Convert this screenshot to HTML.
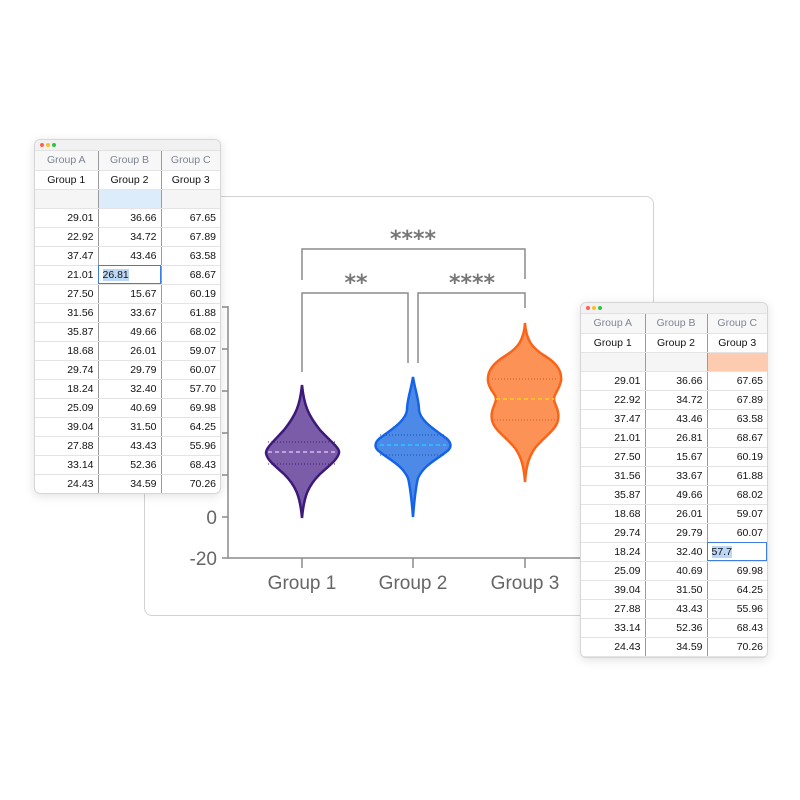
<!DOCTYPE html>
<html><head><meta charset="utf-8"><style>
body{margin:0;width:800px;height:800px;background:#fff;position:relative;overflow:hidden;font-family:"Liberation Sans",sans-serif}
.win{position:absolute;background:#fff;border:1px solid #d6d6d6;border-radius:6px;box-shadow:0 2px 10px rgba(0,0,0,0.12);overflow:hidden}
.tb{height:10px;background:#f1f1f1;position:relative;border-bottom:1px solid #e2e2e2}
.tb i{position:absolute;top:3px;width:4px;height:4px;border-radius:50%}
table{border-collapse:collapse;table-layout:fixed}
td{border-bottom:1px solid #e4e4e4;border-right:1px solid #9a9aa0;height:19px;padding:0 4px;font-size:10.5px;text-align:right;color:#111;box-sizing:border-box;overflow:hidden;white-space:nowrap}
td:last-child{border-right:none}
tr.h td{text-align:center;color:#7d8594;background:#f7f7f7}
tr.g td{text-align:center;color:#111}
tr.e td{background:#f5f5f5}
.sel{outline:1.5px solid #3d7ee0;outline-offset:-1.5px;text-align:left}
.sel span{background:#bcd6f5}
</style></head><body>
<div class="win" style="left:144px;top:196px;width:508px;height:418px;border-radius:8px;box-shadow:none;border-color:#d2d2d2"></div>
<svg style="position:absolute;left:0;top:0" width="800" height="800">
<g stroke="#8c8c8c" stroke-width="1.5" fill="none">
<path d="M228 306V558H580"/>
<path d="M222 307H228M222 349H228M222 391H228M222 433H228M222 475H228M222 517H228M222 558H228"/>
<path d="M302 558V568M413 558V568M525 558V568"/>
<path d="M302 280V249H525V279"/>
<path d="M302 372V293H408V363"/>
<path d="M418 363V293H525V308"/>
</g>
<g font-family="Liberation Sans,sans-serif" fill="#666" font-size="19">
<text x="217" y="524" text-anchor="end">0</text>
<text x="217" y="565" text-anchor="end">-20</text>
<text x="302" y="589" text-anchor="middle">Group 1</text>
<text x="413" y="589" text-anchor="middle">Group 2</text>
<text x="525" y="589" text-anchor="middle">Group 3</text>
</g>
<g font-family="DejaVu Sans,sans-serif" fill="#777" font-size="22" font-weight="bold" text-anchor="middle">
<text x="413" y="246">****</text>
<text x="356" y="290">**</text>
<text x="472" y="290">****</text>
</g>
<path d="M302 385C304 405 308 415 320 430C332 443 340 448 339 453C337 460 330 465 320 474C308 486 304 496 302 518C300 496 296 486 284 474C274 465 267 460 266 453C266 448 272 443 284 430C296 415 300 405 302 385Z" fill="#7b5ca8" stroke="#3c1a7a" stroke-width="2.5"/>
<path d="M268 442H336M268 464H336" stroke="#3c1a7a" stroke-width="1" stroke-dasharray="1 2"/>
<path d="M268 452H336" stroke="#d9b8f0" stroke-width="1.5" stroke-dasharray="4 3"/>
<path d="M413 377C415 390 419 400 419 410C420 420 432 428 446 438C452 443 452 448 446 452C436 460 424 465 418 478C415 490 414 505 413 517C412 505 411 490 408 478C402 465 390 460 380 452C374 448 374 443 380 438C394 428 406 420 407 410C407 400 411 390 413 377Z" fill="#4d8ae8" stroke="#1564e8" stroke-width="2.5"/>
<path d="M380 435H446M380 455H446" stroke="#1a4fb0" stroke-width="1" stroke-dasharray="1 2"/>
<path d="M380 445H446" stroke="#2ec4ff" stroke-width="1.5" stroke-dasharray="4 3"/>
<path d="M525 323C526 340 532 348 545 356C558 364 562 372 561 381C559 390 554 394 554 399C554 404 560 410 558 420C556 430 545 436 535 448C528 458 526 468 525 482C524 468 522 458 515 448C505 436 494 430 492 420C490 410 496 404 496 399C496 394 489 390 488 381C487 372 492 364 505 356C518 348 524 340 525 323Z" fill="#fd9256" stroke="#fa6418" stroke-width="2.5"/>
<path d="M492 379H558M494 420H556" stroke="#d85a1a" stroke-width="1" stroke-dasharray="1 2"/>
<path d="M496 399H554" stroke="#f7d020" stroke-width="1.5" stroke-dasharray="4 3"/>
</svg>

<div class="win" style="left:34px;top:139px;width:185px;height:353px">
<div class="tb"><i style="left:5px;background:#ff5f57"></i><i style="left:11px;background:#febc2e"></i><i style="left:17px;background:#28c840"></i></div>
<table style="width:185px"><colgroup><col style="width:63px"><col style="width:63px"><col style="width:59px"></colgroup>
<tr class="h"><td>Group A</td><td>Group B</td><td>Group C</td></tr>
<tr class="g"><td>Group 1</td><td>Group 2</td><td>Group 3</td></tr>
<tr class="e"><td></td><td style="background:#ddecfb"></td><td></td></tr>
<tr><td>29.01</td><td>36.66</td><td>67.65</td></tr>
<tr><td>22.92</td><td>34.72</td><td>67.89</td></tr>
<tr><td>37.47</td><td>43.46</td><td>63.58</td></tr>
<tr><td>21.01</td><td class="sel"><span>26.81</span></td><td>68.67</td></tr>
<tr><td>27.50</td><td>15.67</td><td>60.19</td></tr>
<tr><td>31.56</td><td>33.67</td><td>61.88</td></tr>
<tr><td>35.87</td><td>49.66</td><td>68.02</td></tr>
<tr><td>18.68</td><td>26.01</td><td>59.07</td></tr>
<tr><td>29.74</td><td>29.79</td><td>60.07</td></tr>
<tr><td>18.24</td><td>32.40</td><td>57.70</td></tr>
<tr><td>25.09</td><td>40.69</td><td>69.98</td></tr>
<tr><td>39.04</td><td>31.50</td><td>64.25</td></tr>
<tr><td>27.88</td><td>43.43</td><td>55.96</td></tr>
<tr><td>33.14</td><td>52.36</td><td>68.43</td></tr>
<tr><td>24.43</td><td>34.59</td><td>70.26</td></tr>
</table></div>

<div class="win" style="left:580px;top:302px;width:186px;height:354px">
<div class="tb"><i style="left:5px;background:#ff5f57"></i><i style="left:11px;background:#febc2e"></i><i style="left:17px;background:#28c840"></i></div>
<table style="width:186px"><colgroup><col style="width:64px"><col style="width:62px"><col style="width:60px"></colgroup>
<tr class="h"><td>Group A</td><td>Group B</td><td>Group C</td></tr>
<tr class="g"><td>Group 1</td><td>Group 2</td><td>Group 3</td></tr>
<tr class="e"><td></td><td></td><td style="background:#fdcbb0"></td></tr>
<tr><td>29.01</td><td>36.66</td><td>67.65</td></tr>
<tr><td>22.92</td><td>34.72</td><td>67.89</td></tr>
<tr><td>37.47</td><td>43.46</td><td>63.58</td></tr>
<tr><td>21.01</td><td>26.81</td><td>68.67</td></tr>
<tr><td>27.50</td><td>15.67</td><td>60.19</td></tr>
<tr><td>31.56</td><td>33.67</td><td>61.88</td></tr>
<tr><td>35.87</td><td>49.66</td><td>68.02</td></tr>
<tr><td>18.68</td><td>26.01</td><td>59.07</td></tr>
<tr><td>29.74</td><td>29.79</td><td>60.07</td></tr>
<tr><td>18.24</td><td>32.40</td><td class="sel"><span>57.7</span></td></tr>
<tr><td>25.09</td><td>40.69</td><td>69.98</td></tr>
<tr><td>39.04</td><td>31.50</td><td>64.25</td></tr>
<tr><td>27.88</td><td>43.43</td><td>55.96</td></tr>
<tr><td>33.14</td><td>52.36</td><td>68.43</td></tr>
<tr><td>24.43</td><td>34.59</td><td>70.26</td></tr>
</table></div>
</body></html>
